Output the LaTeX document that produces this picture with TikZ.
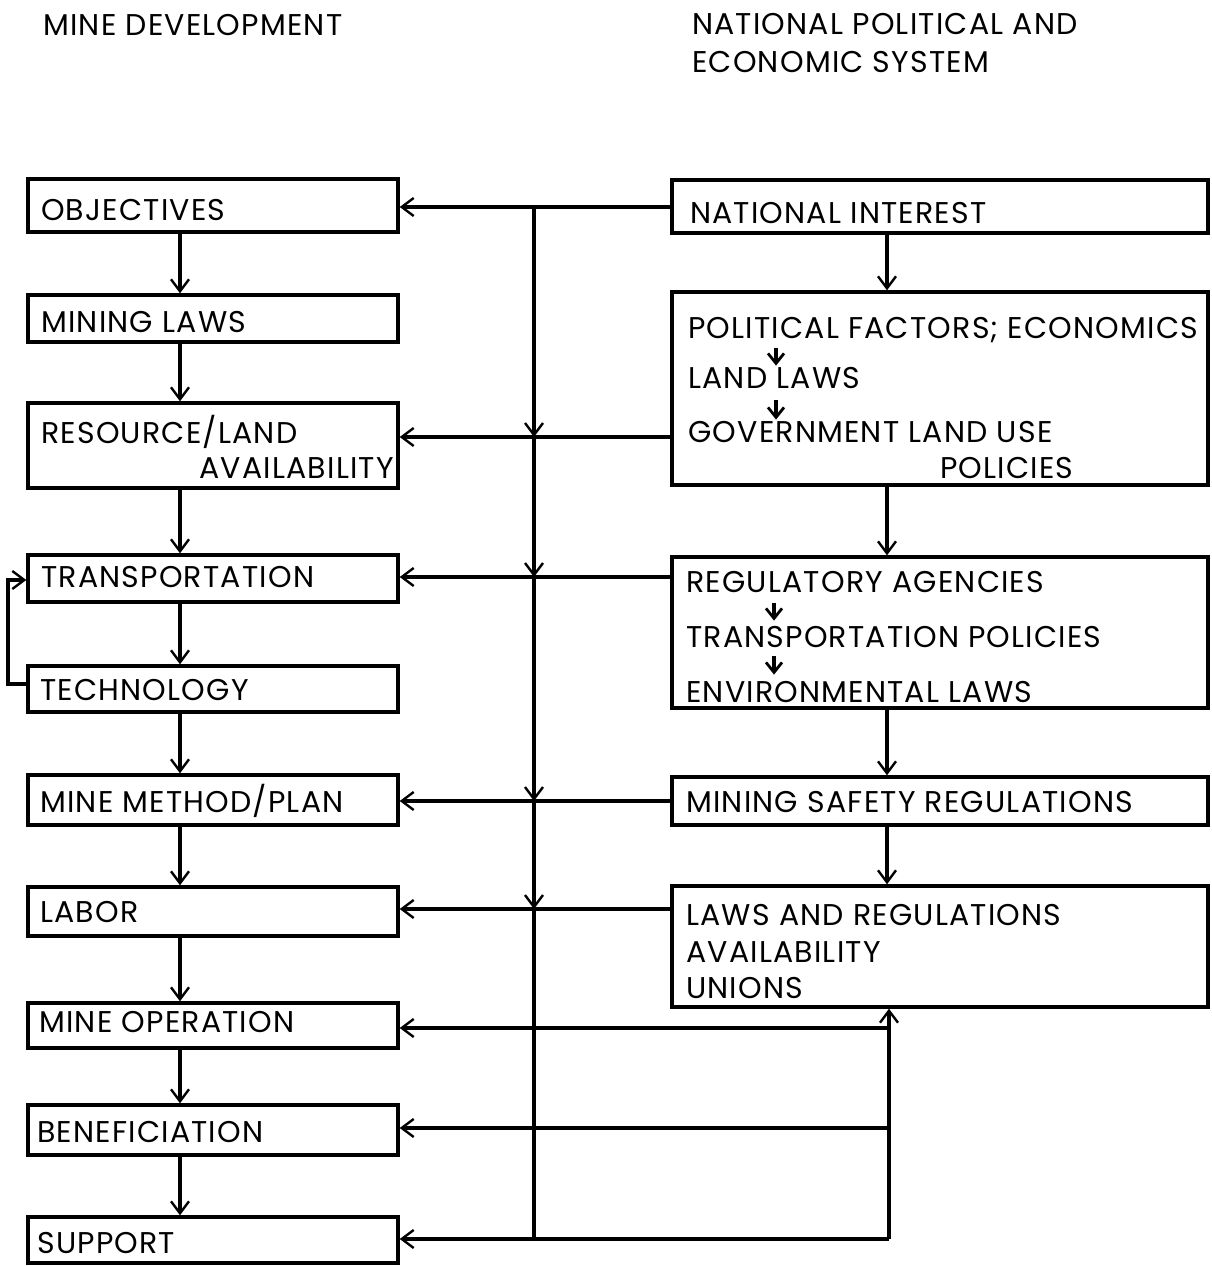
\documentclass[tikz,border=0pt]{standalone}
\usepackage{fontspec}
\setmainfont{Poppins}[LetterSpace=4]
\usetikzlibrary{arrows.meta}
\begin{document}
\begin{tikzpicture}[x=1pt,y=-1pt,
  lbox/.style={draw, line width=3.4pt, inner sep=0pt, minimum width=370pt},
  rbox/.style={draw, line width=3.4pt, inner sep=0pt, minimum width=536pt},
  lab/.style={anchor=base west, inner sep=0pt, font=\fontsize{30}{36}\selectfont},
  labr/.style={anchor=base east, inner sep=0pt, font=\fontsize{30}{36}\selectfont},
  conn/.style={line width=3.4pt, -{Straight Barb[length=12pt,width=18pt,line width=2.4pt]}},
  plain/.style={line width=3.4pt},
  small/.style={line width=3.4pt, -{Straight Barb[length=10pt,width=16pt,line width=2.8pt]}}]
\useasboundingbox (0,0) rectangle (1212,1266);

% titles
\node[lab] (title1) at (43,35) {MINE DEVELOPMENT};
\node[lab] (title2) at (692,34) {NATIONAL POLITICAL AND};
\node[lab] (title3) at (692,72) {ECONOMIC SYSTEM};

% left boxes
\node[lbox, minimum height=53pt] (obj)   at (213,205.5) {};
\node[lbox, minimum height=47pt] (mlaws) at (213,318.5) {};
\node[lbox, minimum height=85pt] (res)   at (213,445.5) {};
\node[lbox, minimum height=47pt] (trans) at (213,578.5) {};
\node[lbox, minimum height=46pt] (tech)  at (213,689) {};
\node[lbox, minimum height=50pt] (meth)  at (213,800) {};
\node[lbox, minimum height=49pt] (labor) at (213,911.5) {};
\node[lbox, minimum height=45pt] (mop)   at (213,1025.5) {};
\node[lbox, minimum height=50pt] (ben)   at (213,1130) {};
\node[lbox, minimum height=46pt] (sup)   at (213,1240) {};

% right boxes
\node[rbox, minimum height=53pt]  (ni)   at (940,206.5) {};
\node[rbox, minimum height=193pt] (pol)  at (940,388.5) {};
\node[rbox, minimum height=151pt] (reg)  at (940,632.5) {};
\node[rbox, minimum height=48pt]  (msr)  at (940,801) {};
\node[rbox, minimum height=121pt] (laws) at (940,946.5) {};

% left texts
\node[lab] (tobj) at (41,220) {OBJECTIVES};
\node[lab] (tml) at (41,332) {MINING LAWS};
\node[lab] (tres1) at (41,443) {RESOURCE/LAND};
\node[labr] (tres2) at (394,478) {AVAILABILITY};
\node[lab] (ttr) at (41,587) {TRANSPORTATION};
\node[lab] (tte) at (40,700) {TECHNOLOGY};
\node[lab] (tme) at (40,812) {MINE METHOD/PLAN};
\node[lab] (tla) at (40,922) {LABOR};
\node[lab] (tmo) at (39,1032) {MINE OPERATION};
\node[lab] (tbe) at (37,1142) {BENEFICIATION};
\node[lab] (tsu) at (37,1253) {SUPPORT};

% right texts
\node[lab] (tni) at (690,223) {NATIONAL INTEREST};
\node[lab] (tpf) at (688,338) {POLITICAL FACTORS; ECONOMICS};
\node[lab] (tll) at (688,388) {LAND LAWS};
\node[lab] (tgov) at (688,442) {GOVERNMENT LAND USE};
\node[lab] (tpo) at (940,478) {POLICIES};
\node[lab] (tra) at (686,592) {REGULATORY AGENCIES};
\node[lab] (ttp) at (686,647) {TRANSPORTATION POLICIES};
\node[lab] (tenv) at (686,702) {ENVIRONMENTAL LAWS};
\node[lab] (tmsr) at (686,812) {MINING SAFETY REGULATIONS};
\node[lab] (tlr) at (686,925) {LAWS AND REGULATIONS};
\node[lab] (tav) at (686,962) {AVAILABILITY};
\node[lab] (tun) at (686,998) {UNIONS};

% column coordinates
\coordinate (lc) at (180,0);
\coordinate (rc) at (887,0);
\coordinate (ax1) at (776,0);
\coordinate (ax2) at (774,0);
\coordinate (j0) at (534,207);
\coordinate (j1) at (534,437);
\coordinate (j2) at (534,577);
\coordinate (j3) at (534,801);
\coordinate (j4) at (534,909);
\coordinate (j5) at (534,1239);
\coordinate (b1) at (889,1028);
\coordinate (b2) at (889,1128);
\coordinate (b3) at (889,1239);
\coordinate (lp1) at (0,684);
\coordinate (lp2) at (0,580);

% left chain
\foreach \a/\b in {obj/mlaws, mlaws/res, res/trans, trans/tech, tech/meth, meth/labor, labor/mop, mop/ben, ben/sup}
  \draw[conn] (\a.south -| lc) -- (\b.north -| lc);
% right chain
\foreach \a/\b in {ni/pol, pol/reg, reg/msr, msr/laws}
  \draw[conn] (\a.south -| rc) -- (\b.north -| rc);

% horizontal feeds
\draw[conn] (ni.west |- j0) -- (obj.east |- j0);
\draw[conn] (pol.west |- j1) -- (res.east |- j1);
\draw[conn] (reg.west |- j2) -- (trans.east |- j2);
\draw[conn] (msr.west |- j3) -- (meth.east |- j3);
\draw[conn] (laws.west |- j4) -- (labor.east |- j4);

% main vertical
\draw[conn] (j0) -- (j1);
\draw[conn] (j1) -- (j2);
\draw[conn] (j2) -- (j3);
\draw[conn] (j3) -- (j4);
\draw[plain] (j4) -- (j5);

% bottom feeds
\draw[conn] (b3) -- (laws.south -| b3);
\draw[conn] (b1) -- (mop.east |- b1);
\draw[conn] (b2) -- (ben.east |- b2);
\draw[conn] (b3) -- (sup.east |- b3);

% loop technology -> transportation
\draw[conn] (tech.west |- lp1) -- (8,684) |- (trans.west |- lp2);

% small inner arrows
\draw[small] ([yshift=-10pt]tpf.base -| ax1) -- ([yshift=1pt]tll.north -| ax1);
\draw[small] ([yshift=-12pt]tll.base -| ax1) -- ([yshift=1pt]tgov.north -| ax1);
\draw[small] ([yshift=-11pt]tra.base -| ax2) -- ([yshift=5pt]ttp.north -| ax2);
\draw[small] ([yshift=-9pt]ttp.base -| ax2) -- ([yshift=6pt]tenv.north -| ax2);
\end{tikzpicture}
\end{document}
